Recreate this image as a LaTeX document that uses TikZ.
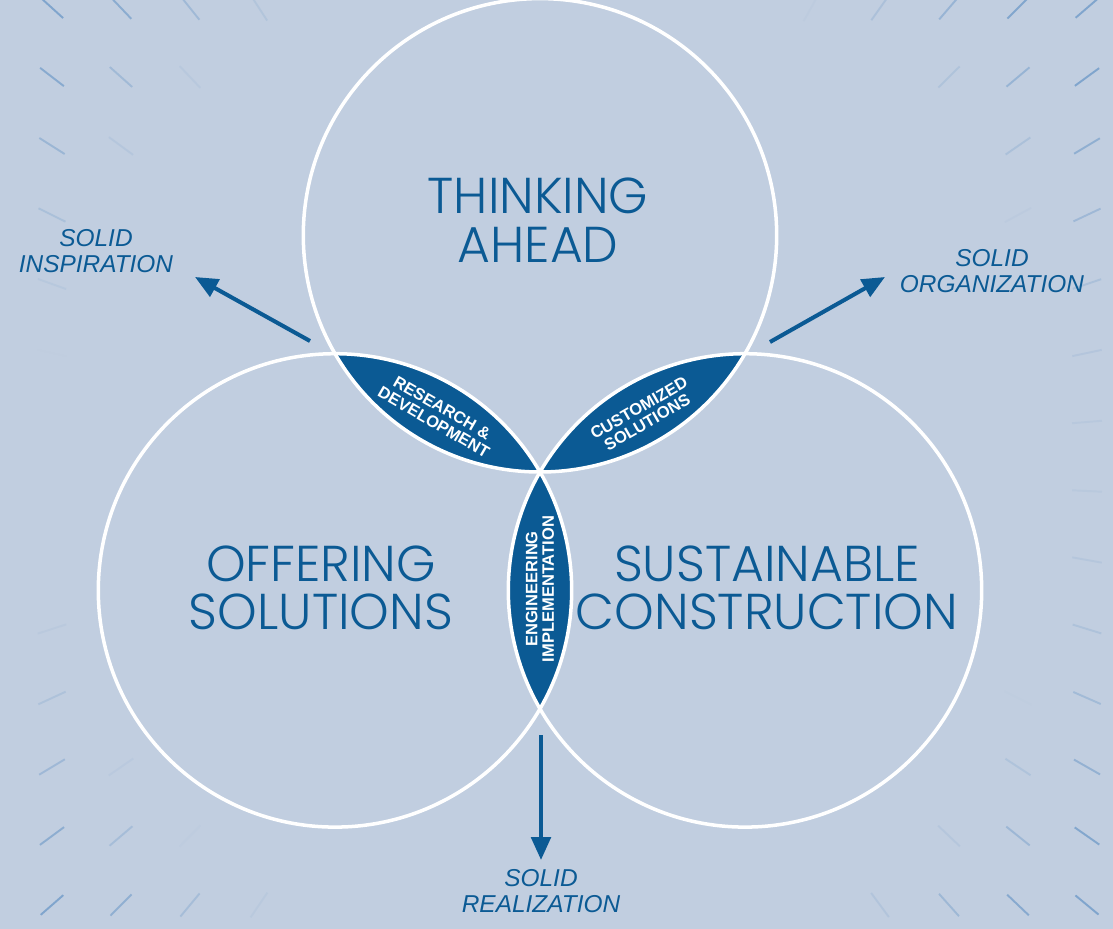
\documentclass[tikz,border=0pt]{standalone}
\usepackage{fontspec}
\setmainfont{Liberation Sans}
\IfFontExistsTF{Poppins Light}{\newfontfamily\headfont{Poppins Light}}{\newfontfamily\headfont{Poppins}}
\usetikzlibrary{arrows.meta}
\definecolor{bgblue}{RGB}{193,206,224}
\definecolor{deepblue}{RGB}{11,90,148}
\definecolor{tickblue}{RGB}{128,165,205}
\tikzset{
  ring/.style = {draw = white, line width = 2pt},
  lens/.style = {fill = deepblue},
  title/.style = {text = deepblue, align = center, inner sep = 0, font = \headfont\fontsize{28.7}{27.6}\selectfont},
  solid/.style = {text = deepblue, align = center, inner sep = 0, font = \itshape\fontsize{13.9}{15.2}\selectfont},
  lenslabel/.style = {text = white, align = center, inner sep = 0, font = \bfseries\fontsize{9.4}{9.4}\selectfont},
  pointer/.style = {draw = deepblue, line width = 2.3pt, -{Triangle[length = 13pt, width = 11pt]}},
  tick/.style = {draw = tickblue, line width = 1.1pt}
}
\begin{document}
\begin{tikzpicture}[x = 0.02cm, y = -0.02cm]
\useasboundingbox(0,0)rectangle(1113,929);
\fill[bgblue](0,0)rectangle(1113,929);
\begin{scope}
\clip(0,0)rectangle(1113,929);
\foreach \i in {0,...,15}{
  \foreach \j in {0,...,13}{
    \pgfmathsetmacro\tx{52+69*\i}
    \pgfmathsetmacro\ty{8+69*\j}
    \pgfmathsetmacro\dist{veclen((\tx-556)/100,(\ty-465)/100)}
    \pgfmathsetmacro\ang{atan2(\ty-465,\tx-556)}
    \pgfmathsetmacro\op{max(0,min(1,(\dist-5.15)/1.4))}
    \draw[tick, opacity = \op]([shift = {(\ang:-15)}]\tx,\ty)--([shift = {(\ang:15)}]\tx,\ty);
  }
}
\end{scope}
\coordinate(ctop)at(540,235.3);
\coordinate(cleft)at(335,590.4);
\coordinate(cright)at(745,590.4);
\begin{scope}
\clip(ctop)circle(236.7);
\fill[lens](cleft)circle(236.7);
\fill[lens](cright)circle(236.7);
\end{scope}
\begin{scope}
\clip(cleft)circle(236.7);
\fill[lens](cright)circle(236.7);
\end{scope}
\draw[ring](ctop)circle(236.7);
\draw[ring](cleft)circle(236.7);
\draw[ring](cright)circle(236.7);
\node[title](think)at(538,220){THINKING\\AHEAD};
\node[title](offer)at(321,588){OFFERING\\SOLUTIONS};
\node[title](sustain)at(767,588){SUSTAINABLE\\CONSTRUCTION};
\node[lenslabel, rotate = -30](rd)at(438,415){RESEARCH \&\\DEVELOPMENT};
\node[lenslabel, rotate = 30](cs)at(643,415){CUSTOMIZED\\SOLUTIONS};
\node[lenslabel, rotate = 90](ei)at(540,589){ENGINEERING\\IMPLEMENTATION};
\node[solid](insp)at(96,251){SOLID\\INSPIRATION};
\node[solid](org)at(992,271){SOLID\\ORGANIZATION};
\node[solid](real)at(541,891){SOLID\\REALIZATION};
\coordinate(inspfrom)at(310,341);
\coordinate(inspto)at(195,277);
\coordinate(orgfrom)at(770,342);
\coordinate(orgto)at(885,277);
\coordinate(realfrom)at(541,735);
\coordinate(realto)at(541,860);
\draw[pointer](inspfrom)--(inspto);
\draw[pointer](orgfrom)--(orgto);
\draw[pointer](realfrom)--(realto);
\end{tikzpicture}
\end{document}
